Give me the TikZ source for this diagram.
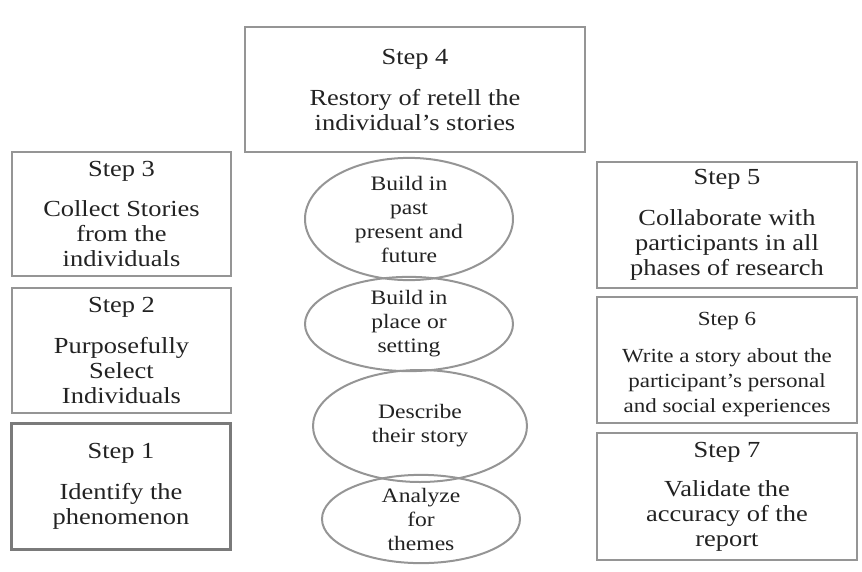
\documentclass[tikz,border=0pt]{standalone}
\usepackage{fontspec}
\setmainfont{Liberation Serif}[FakeStretch=1.15]
\usetikzlibrary{shapes.geometric}
\definecolor{edge}{HTML}{959595}
\definecolor{edgedark}{HTML}{7A7A7A}
\definecolor{ink}{HTML}{222222}
\tikzset{
  stepbox/.style={draw=edge, line width=1.6pt, rectangle, inner sep=0pt, align=center, text=ink,
    font=\fontsize{23}{25}\selectfont},
  ovalbox/.style={draw=edge, line width=2pt, ellipse, inner sep=0pt, align=center, text=ink,
    font=\fontsize{20.5}{24}\selectfont},
}
\begin{document}
\begin{tikzpicture}[x=1pt,y=-1pt]
\useasboundingbox (0,0) rectangle (862,571);
% left column
\node[stepbox, minimum width=219pt, minimum height=124pt] (s3) at (121.5,214) {Step 3\\[15pt]Collect Stories\\from the\\individuals};
\node[stepbox, minimum width=219pt, minimum height=125pt] (s2) at (121.5,350.5) {Step 2\\[16pt]Purposefully\\Select\\Individuals};
\node[stepbox, draw=edgedark, line width=3pt, minimum width=219pt, minimum height=126pt] (s1) at (121,486.5) {Step 1\\[16pt]Identify the\\phenomenon};
% top
\node[stepbox, minimum width=340pt, minimum height=125pt] (s4) at (415,89.5) {Step 4\\[16pt]Restory of retell the\\individual's stories};
% right column
\node[stepbox, minimum width=260pt, minimum height=126pt] (s5) at (727,225) {Step 5\\[16pt]Collaborate with\\participants in all\\phases of research};
\node[stepbox, minimum width=260pt, minimum height=126pt, font=\fontsize{20}{25}\selectfont] (s6) at (727,360) {\raisebox{0pt}[22pt]{Step 6}\\[12pt]Write a story about the\\participant's personal\\and social experiences};
\node[stepbox, minimum width=260pt, minimum height=127pt] (s7) at (727,496.5) {Step 7\\[14pt]Validate the\\accuracy of the\\report};
% ellipses
\node[ovalbox, minimum width=208pt, minimum height=114pt] (e1) at (409,219) {Build in\\past\\present and\\future};
\node[ovalbox, minimum width=208pt, minimum height=92pt] (e2) at (409,324) {Build in\\place or\\setting};
\node[ovalbox, minimum width=214pt, minimum height=112pt] (e3) at (420,426) {Describe\\their story};
\node[ovalbox, minimum width=198pt, minimum height=84pt] (e4) at (421,519) {Analyze\\for\\themes};
\end{tikzpicture}
\end{document}
